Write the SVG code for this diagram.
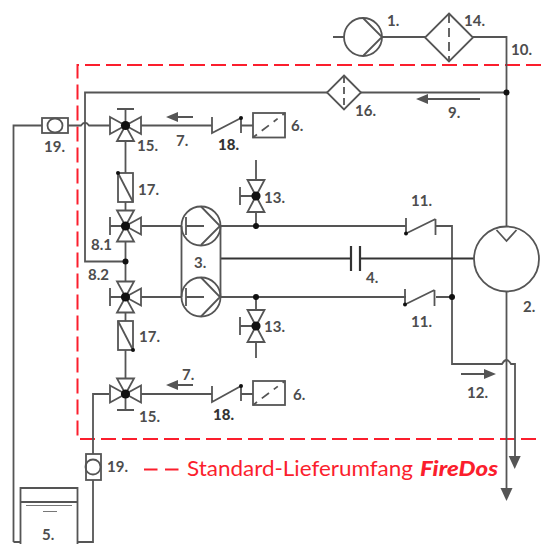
<svg xmlns="http://www.w3.org/2000/svg" width="541" height="544" viewBox="0 0 541 544">
<style>
.l{fill:none;stroke:#555;stroke-width:1.8}
.t{fill:none;stroke:#333;stroke-width:2.2}
.f{fill:#555;stroke:none}
.d{fill:#111;stroke:none}
.r{fill:none;stroke:#fb1e2d;stroke-width:2}
text{font-family:"Lato","Liberation Sans",sans-serif}
.n{font-size:15px;font-weight:700;fill:#4d4d4d}
.b{font-size:15px;font-weight:900;fill:#333}
.w{fill:none;stroke:#777;stroke-width:1.200}
</style>
<defs>
<g id="tri"><path class="l" d="M0 0L-15.5 -8.5V8.5Z"/></g>
<g id="tee"><path class="l" d="M0 0H-15.5M-15.5 -9V9"/></g>
<circle id="dot" r="4.600" class="d"/>
<circle id="sdot" r="2" class="d"/>
</defs>
<g id="scope"><path class="r" stroke-dasharray="15 6" d="M541 65H77.5V439H541"/></g>
<g id="connectors">
<path class="l" d="M382 37H425M473 37H506.5V227M506.5 92.5H361M327 92.5H85V261.5H125.5"/>
<path class="l" d="M13.5 542V125.5H42M68 125.5H81Q85 120 89 125.5H110M141 125.5H212M241 125.5H253"/>
<path class="l" d="M125.5 141V173M125.5 202V210M125.5 242V281M125.5 313V321M125.5 350V378"/>
<path class="l" d="M141 226H181.5M141 297H181.5M141 394H212M241 394H253"/>
<path class="l" d="M220 226H406M220 297H406M436 226H452V364H502Q506.5 356 511 364H515V457M436 297H452"/>
<path class="l" d="M506.5 291V490"/>
<path class="t" d="M220 258.5H351M361 258.5H474"/>
<path class="l" d="M109 394H93V454M93 480V542H77.5M20.5 542H13.5"/>
<path class="f" d="M506.5 501L500.500 488H512.500Z"/>
<path class="f" d="M514.700 469L508.700 456H520.700Z"/>
<path class="f" d="M166 117L178 112V116H193V118H178V122Z"/>
<path class="f" d="M166 385L178 380V384H193V386H178V390Z"/>
<path class="f" d="M416 99L428 94V98H480V100H428V104Z"/>
<path class="f" d="M496 374L484 369V373H461V375H484V379Z"/>
</g>
<g id="n1"><circle class="l" cx="363" cy="37" r="19"/><path class="l" d="M333 37H344M363 18L382 37L363 56"/><text class="n" x="387" y="26">1.</text></g>
<g id="n14"><path class="l" d="M449 13.500L473 37.500L449 61.500L425 37.500Z"/><path class="l" stroke-dasharray="9 5" d="M449 14V61"/><text class="n" x="464" y="26">14.</text></g>
<text id="n10" class="n" x="511" y="55">10.</text>
<circle id="j1" cx="506.500" cy="92.500" r="3" class="d"/>
<g id="n16"><path class="l" d="M344 75.500L361 92.500L344 109.500L327 92.500Z"/><path class="l" stroke-dasharray="7 4" d="M344 76V109"/><text class="n" x="355" y="116">16.</text></g>
<text id="n9" class="n" x="448" y="118">9.</text>
<g id="n19a"><rect class="l" x="42" y="118" width="26" height="15"/><rect class="l" x="47.500" y="118.500" width="15" height="14" rx="7"/><text class="n" x="44" y="152">19.</text></g>
<g id="n15a"><use href="#tri" transform="translate(125.500 125.500)"/><use href="#tri" transform="translate(125.500 125.500) rotate(180)"/><use href="#tri" transform="translate(125.500 125.500) rotate(-90)"/><path class="l" d="M125.500 125.500V109M117 109H134"/><use href="#dot" x="125.500" y="125.500"/><text class="n" x="137" y="151">15.</text></g>
<text id="n7a" class="n" x="176" y="146">7.</text>
<g id="n18a"><path class="l" d="M212 117V133L241 118M241 117V133"/><use href="#sdot" x="241" y="118"/><text class="b" x="218" y="150">18.</text></g>
<g id="n6a"><rect class="l" x="253" y="113" width="32" height="24.500"/><path class="l" stroke-dasharray="5 6 9 6 5 6" d="M253 137.500L285 113"/><text class="n" x="291" y="131">6.</text></g>
<g id="n17a"><rect class="l" x="118" y="173" width="15" height="29"/><path class="l" d="M118 173L133 202"/><use href="#sdot" x="118" y="173"/><text class="n" x="138" y="195">17.</text></g>
<g id="n81"><use href="#tri" transform="translate(125.500 226) rotate(90)"/><use href="#tri" transform="translate(125.500 226) rotate(-90)"/><use href="#tri" transform="translate(125.500 226) rotate(180)"/><use href="#tee" transform="translate(125.500 226)"/><use href="#dot" x="125.500" y="226"/><text class="n" x="91" y="250">8.1</text></g>
<circle id="j2" cx="125.500" cy="261.500" r="3" class="d"/>
<g id="n82"><use href="#tri" transform="translate(125.500 297) rotate(90)"/><use href="#tri" transform="translate(125.500 297) rotate(-90)"/><use href="#tri" transform="translate(125.500 297) rotate(180)"/><use href="#tee" transform="translate(125.500 297)"/><use href="#dot" x="125.500" y="297"/><text class="n" x="88" y="280">8.2</text></g>
<g id="n3"><circle class="l" cx="201" cy="226" r="19.500"/><circle class="l" cx="201" cy="297" r="19.500"/><path class="l" d="M181.500 226V297M220.500 226V297M186 217V235M186 226H204M201 206.500L220 226L201 245M186 288V306M186 297H204M201 277.500L220 297L201 316.500"/><text class="n" x="194" y="268">3.</text></g>
<g id="n13a"><path class="l" d="M256 160V180M256 212V226M240 187V205M240 196H256M256 196L247.500 180H264.500ZM256 196L247.500 212H264.500Z"/><use href="#dot" x="256" y="196"/><text class="n" x="264" y="203">13.</text></g>
<circle id="j3" cx="256" cy="226" r="3" class="d"/>
<g id="n13b"><path class="l" d="M256 297V310M256 342V358M240 317V335M240 326H256M256 326L247.500 310H264.500ZM256 326L247.500 342H264.500Z"/><use href="#dot" x="256" y="326"/><text class="n" x="264" y="332">13.</text></g>
<circle id="j4" cx="256" cy="297" r="3" class="d"/>
<g id="n4"><path class="t" d="M351 246V271M360 246V271"/><text class="n" x="366" y="283">4.</text></g>
<g id="n11a"><path class="l" d="M406 218V235M406 233.500L435.500 219M435.500 219V235"/><use href="#sdot" x="406" y="233.500"/><text class="n" x="411" y="206">11.</text></g>
<g id="n11b"><path class="l" d="M405 289V306M405 304.500L434.500 290M434.500 290V306"/><use href="#sdot" x="405" y="304.500"/><text class="n" x="411" y="327">11.</text></g>
<circle id="j5" cx="452" cy="297" r="3" class="d"/>
<g id="n2"><circle class="l" cx="506.500" cy="259" r="32.500"/><path class="l" d="M496.500 230L506.500 241L516.500 230"/><text class="n" x="523" y="312">2.</text></g>
<text id="n12" class="n" x="467" y="398">12.</text>
<g id="n17b"><rect class="l" x="118" y="321" width="15" height="29"/><path class="l" d="M118 321L133 350"/><use href="#sdot" x="133" y="350"/><text class="n" x="139" y="342">17.</text></g>
<g id="n15b"><use href="#tri" transform="translate(125.500 394)"/><use href="#tri" transform="translate(125.500 394) rotate(180)"/><use href="#tri" transform="translate(125.500 394) rotate(90)"/><path class="l" d="M125.500 394V410M117 410H134"/><use href="#dot" x="125.500" y="394"/><text class="n" x="139" y="422">15.</text></g>
<text id="n7b" class="n" x="182" y="380">7.</text>
<g id="n18b"><path class="l" d="M212 386V402L241 386M241 385V401"/><use href="#sdot" x="241" y="386"/><text class="b" x="213" y="420">18.</text></g>
<g id="n6b"><rect class="l" x="253" y="381" width="32" height="24"/><path class="l" stroke-dasharray="5 6 9 6 5 6" d="M253 405L285 381"/><text class="n" x="293" y="400">6.</text></g>
<g id="n19b"><rect class="l" x="86" y="454" width="15" height="26"/><circle class="l" cx="93" cy="467" r="7.500"/><text class="n" x="107" y="472">19.</text></g>
<g id="n5"><path class="l" d="M20.500 544V488H77.500V544M20.500 502H77.500"/><path class="w" d="M26 505.500H72M43 511.500H57"/><text class="n" x="42" y="540">5.</text></g>
<g id="legend"><path class="r" d="M144 469.500H157.500M165 469.500H178.500"/><text x="187" y="476" font-size="21.500" fill="#fb1e2d" textLength="226" lengthAdjust="spacingAndGlyphs">Standard-Lieferumfang</text><text x="420" y="476" font-size="21.500" font-weight="900" font-style="italic" fill="#fb1e2d" textLength="78" lengthAdjust="spacingAndGlyphs">FireDos</text></g>
</svg>
